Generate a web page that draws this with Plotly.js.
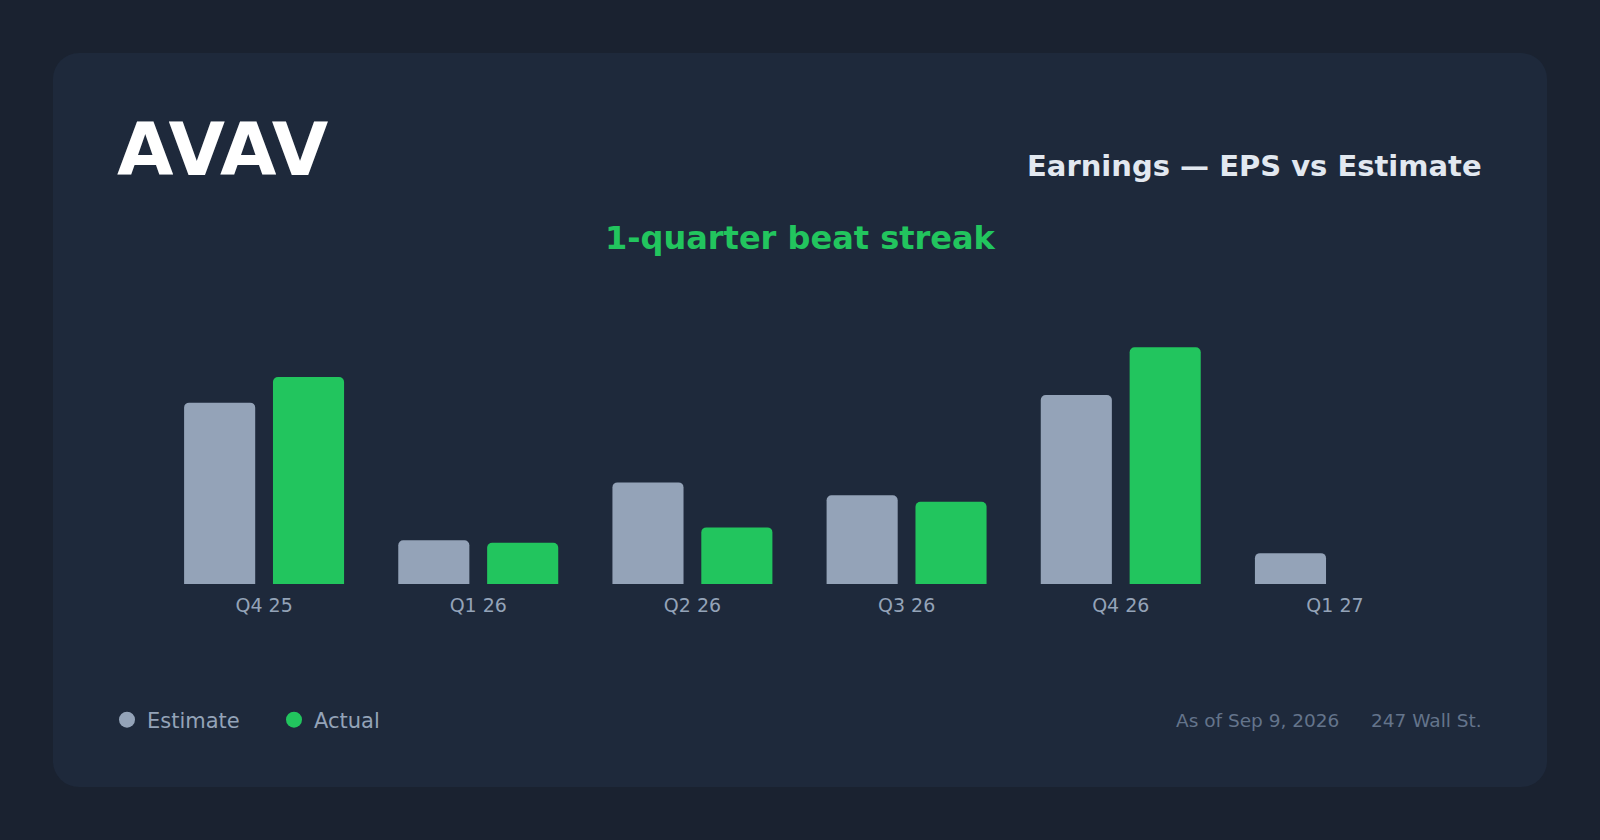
<!DOCTYPE html>
<html>
<head>
<meta charset="utf-8">
<script src="https://cdn.plot.ly/plotly-3.0.1.min.js"></script>
<style>
  html, body { margin: 0; padding: 0; background: #1a2230; }
  #wrap { position: relative; width: 1600px; height: 840px; }
  #card { position: absolute; left: 53px; top: 53px; width: 1494px; height: 734px; border-radius: 26px; background: #1e293b; }
  #chart { position: absolute; left: 0; top: 0; width: 1600px; height: 840px; }
</style>
</head>
<body>
<div id="wrap"><div id="card"></div><div id="chart"></div></div>
<script>
// data
const ticker = 'AVAV';
const quarters = ['Q4 25', 'Q1 26', 'Q2 26', 'Q3 26', 'Q4 26', 'Q1 27'];
const estimateEps = [1.41, 0.34, 0.79, 0.69, 1.47, 0.24];
const actualEps = [1.61, 0.32, 0.44, 0.64, 1.84, null];
const seriesNames = ['Estimate', 'Actual'];
const headline = 'Earnings — EPS vs Estimate';
const asOf = 'As of Sep 9, 2026';
const source = '247 Wall St.';

const grey = '#94a3b8';
const green = '#22c55e';
const font = 'DejaVu Sans, Verdana, sans-serif';

// beats in a row, counted back from the latest reported quarter
function beatStreak() {
  let n = 0;
  for (let i = actualEps.length - 1; i >= 0; i--) {
    if (actualEps[i] == null) continue;
    if (actualEps[i] > estimateEps[i]) n++;
    else break;
  }
  return n;
}

// page pixels -> paper coords
const W = 1600, H = 840;
const M = { l: 157, r: 158, t: 300, b: 256 };
const px = x => (x - M.l) / (W - M.l - M.r);
const py = y => (H - M.b - y) / (H - M.t - M.b);

const estimate = {
  type: 'bar',
  name: seriesNames[0],
  x: quarters,
  y: estimateEps,
  marker: { color: grey, cornerradius: 5 },
  showlegend: false,
  hoverinfo: 'skip'
};

const actual = {
  type: 'bar',
  name: seriesNames[1],
  x: quarters,
  y: actualEps,
  marker: { color: green, cornerradius: 5 },
  showlegend: false,
  hoverinfo: 'skip'
};

// round legend swatches
const legendEst = {
  type: 'scatter', mode: 'markers', name: seriesNames[0],
  x: [null], y: [null], marker: { color: grey, size: 18, symbol: 'circle' }
};
const legendAct = {
  type: 'scatter', mode: 'markers', name: seriesNames[1],
  x: [null], y: [null], marker: { color: green, size: 18, symbol: 'circle' }
};

const yMax = Math.max(...estimateEps, ...actualEps.filter(v => v != null)) * 1.2;

const layout = {
  width: W,
  height: H,
  margin: M,
  paper_bgcolor: 'rgba(0,0,0,0)',
  plot_bgcolor: 'rgba(0,0,0,0)',
  font: { family: font, color: grey },
  barmode: 'group',
  bargap: 0.17,
  bargroupgap: 0.2,
  title: {
    text: ticker,
    xref: 'container', yref: 'container',
    x: 117 / W, xanchor: 'left',
    y: 1 - 149 / H, yanchor: 'middle',
    font: { family: font, size: 73, weight: 'bold', color: '#ffffff' }
  },
  xaxis: {
    type: 'category',
    showgrid: false, zeroline: false, showline: false, ticks: '',
    ticklabelstandoff: 8,
    tickfont: { size: 19, color: grey },
    fixedrange: true
  },
  yaxis: {
    range: [0, yMax],
    visible: false,
    fixedrange: true
  },
  legend: {
    orientation: 'h',
    x: px(107), xanchor: 'left',
    y: py(720), yanchor: 'middle',
    entrywidth: 122,
    font: { size: 21, color: grey },
    bgcolor: 'rgba(0,0,0,0)'
  },
  annotations: [
    {
      text: headline, showarrow: false,
      xref: 'paper', yref: 'paper',
      x: px(1484), xanchor: 'right', y: py(166), yanchor: 'middle',
      font: { size: 29, weight: 'bold', color: '#e2e8f0' }
    },
    {
      text: beatStreak() + '-quarter beat streak', showarrow: false,
      xref: 'paper', yref: 'paper',
      x: px(800), xanchor: 'center', y: py(238), yanchor: 'middle',
      font: { size: 32, weight: 'bold', color: green }
    },
    {
      text: asOf, showarrow: false,
      xref: 'paper', yref: 'paper',
      x: px(1341), xanchor: 'right', y: py(720), yanchor: 'middle',
      font: { size: 18.5, color: '#64748b' }
    },
    {
      text: source, showarrow: false,
      xref: 'paper', yref: 'paper',
      x: px(1484), xanchor: 'right', y: py(720), yanchor: 'middle',
      font: { size: 18.5, color: '#64748b' }
    }
  ]
};

Plotly.newPlot('chart', [estimate, actual, legendEst, legendAct], layout, {
  displayModeBar: false,
  staticPlot: true
});
</script>
</body>
</html>
